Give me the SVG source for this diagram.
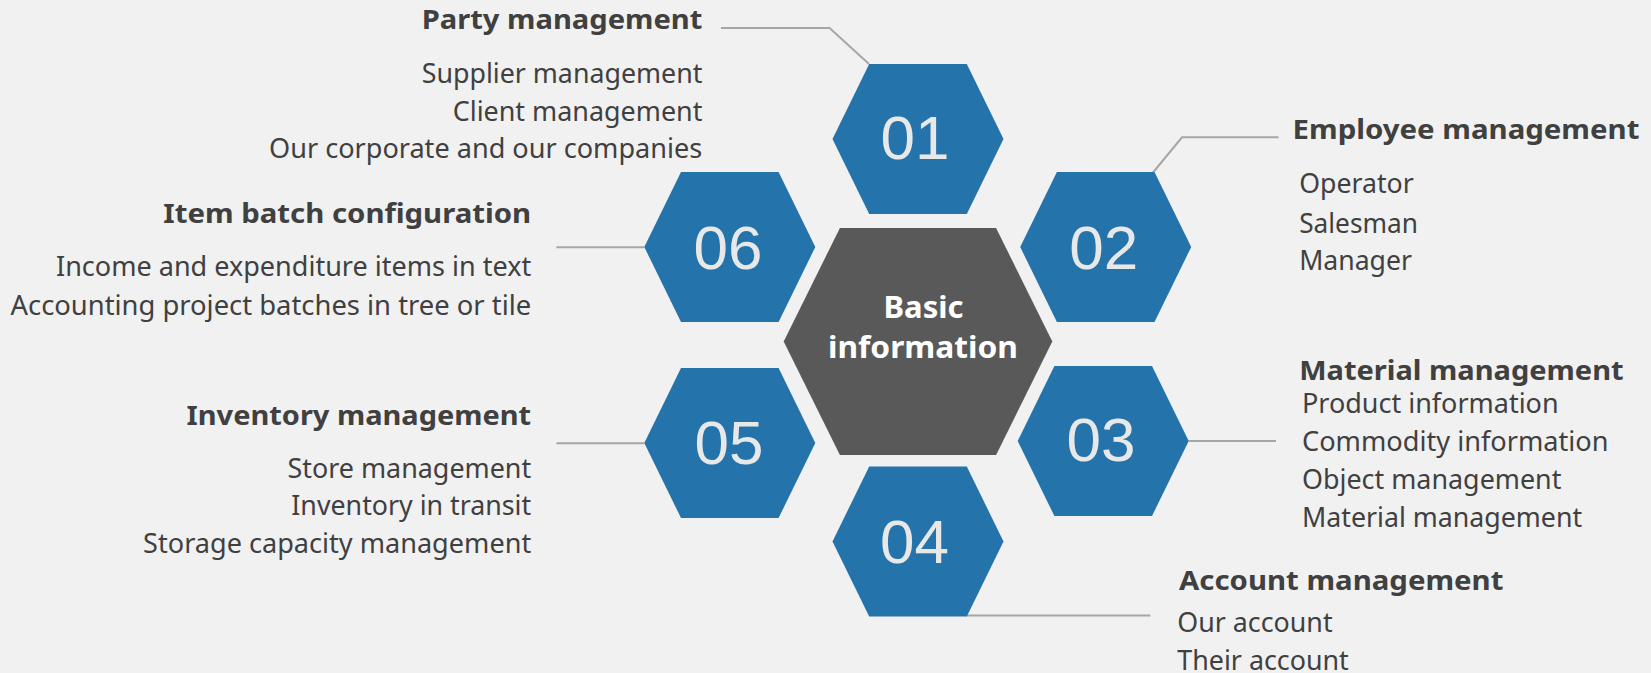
<svg xmlns="http://www.w3.org/2000/svg" xmlns:xlink="http://www.w3.org/1999/xlink" width="1651" height="673" viewBox="0 0 1651 673">
  <style>
    .hex { fill: #2473ab; }
    .core { fill: #595959; }
    .num { font-family: "Liberation Sans", Arial, sans-serif; font-size: 62px; fill: #e8e8e8; text-anchor: middle; }
    .core-t { font-family: "Noto Sans", "Open Sans", sans-serif; font-weight: bold; font-size: 31px; fill: #ffffff; text-anchor: middle; }
    .title { font-family: "Noto Sans", "Open Sans", sans-serif; font-weight: bold; font-size: 27px; fill: #404040; }
    .item { font-family: "Noto Sans", "Open Sans", sans-serif; font-size: 27px; fill: #404040; }
    .conn { fill: none; stroke: #a6a6a6; stroke-width: 2; }
  </style>
  <defs>
    <polygon id="hexShape" points="-85.5,0 -48.8,-75 48.8,-75 85.5,0 48.8,75 -48.8,75"/>
  </defs>
  <rect x="0" y="0" width="1651" height="673" fill="#f1f1f1"/>

  <g id="connectors">
    <polyline class="conn" points="721,28 829.6,28 869,64"/>
    <polyline class="conn" points="1153,172.5 1182,137.3 1278.5,137.3"/>
    <polyline class="conn" points="1188.5,441 1276,441"/>
    <polyline class="conn" points="966.6,615.5 1150.3,615.5"/>
    <polyline class="conn" points="556.4,443.3 644.4,443.3"/>
    <polyline class="conn" points="556.4,247.3 644.4,247.3"/>
  </g>

  <g id="node-core">
    <polygon class="core" points="783.7,341.5 839.9,228 996.1,228 1052.3,341.5 996.1,455 839.9,455"/>
    <text class="core-t" x="923.5" y="318" textLength="80" lengthAdjust="spacingAndGlyphs">Basic</text>
    <text class="core-t" x="923" y="358" textLength="190" lengthAdjust="spacingAndGlyphs">information</text>
  </g>

  <g id="node-01">
    <use xlink:href="#hexShape" href="#hexShape" class="hex" transform="translate(918,139)"/>
    <text class="num" x="915" y="159">01</text>
    <text class="title" x="421.7" y="29.3" textLength="280.7" lengthAdjust="spacingAndGlyphs">Party management</text>
    <text class="item" x="421.7" y="83.3" textLength="280.7" lengthAdjust="spacingAndGlyphs">Supplier management</text>
    <text class="item" x="452.7" y="120.7" textLength="249.7" lengthAdjust="spacingAndGlyphs">Client management</text>
    <text class="item" x="269" y="158.3" textLength="433.3" lengthAdjust="spacingAndGlyphs">Our corporate and our companies</text>
  </g>

  <g id="node-02">
    <use xlink:href="#hexShape" href="#hexShape" class="hex" transform="translate(1105.7,247)"/>
    <text class="num" x="1103.8" y="269.3">02</text>
    <text class="title" x="1292.6" y="139.3" textLength="346.8" lengthAdjust="spacingAndGlyphs">Employee management</text>
    <text class="item" x="1299.2" y="193.3" textLength="114.6" lengthAdjust="spacingAndGlyphs">Operator</text>
    <text class="item" x="1299.2" y="232.7" textLength="118.8" lengthAdjust="spacingAndGlyphs">Salesman</text>
    <text class="item" x="1299.2" y="270" textLength="112.8" lengthAdjust="spacingAndGlyphs">Manager</text>
  </g>

  <g id="node-03">
    <use xlink:href="#hexShape" href="#hexShape" class="hex" transform="translate(1103.2,441)"/>
    <text class="num" x="1101" y="461">03</text>
    <text class="title" x="1299.2" y="380" textLength="324.4" lengthAdjust="spacingAndGlyphs">Material management</text>
    <text class="item" x="1302" y="412.7" textLength="256.6" lengthAdjust="spacingAndGlyphs">Product information</text>
    <text class="item" x="1302" y="450.7" textLength="306.5" lengthAdjust="spacingAndGlyphs">Commodity information</text>
    <text class="item" x="1302" y="489.3" textLength="259.4" lengthAdjust="spacingAndGlyphs">Object management</text>
    <text class="item" x="1302" y="526.7" textLength="280.1" lengthAdjust="spacingAndGlyphs">Material management</text>
  </g>

  <g id="node-04">
    <use xlink:href="#hexShape" href="#hexShape" class="hex" transform="translate(918,541.5)"/>
    <text class="num" x="914.6" y="563.3">04</text>
    <text class="title" x="1179" y="590" textLength="324.4" lengthAdjust="spacingAndGlyphs">Account management</text>
    <text class="item" x="1177.3" y="631.7" textLength="155.3" lengthAdjust="spacingAndGlyphs">Our account</text>
    <text class="item" x="1177.3" y="670" textLength="171.5" lengthAdjust="spacingAndGlyphs">Their account</text>
  </g>

  <g id="node-05">
    <use xlink:href="#hexShape" href="#hexShape" class="hex" transform="translate(729.8,443)"/>
    <text class="num" x="729" y="464">05</text>
    <text class="title" x="186.5" y="425" textLength="344.7" lengthAdjust="spacingAndGlyphs">Inventory management</text>
    <text class="item" x="287.5" y="478.3" textLength="243.7" lengthAdjust="spacingAndGlyphs">Store management</text>
    <text class="item" x="291.3" y="515" textLength="239.9" lengthAdjust="spacingAndGlyphs">Inventory in transit</text>
    <text class="item" x="143.1" y="553.3" textLength="388.1" lengthAdjust="spacingAndGlyphs">Storage capacity management</text>
  </g>

  <g id="node-06">
    <use xlink:href="#hexShape" href="#hexShape" class="hex" transform="translate(729.8,247)"/>
    <text class="num" x="728" y="269.3">06</text>
    <text class="title" x="163.3" y="223.3" textLength="367.9" lengthAdjust="spacingAndGlyphs">Item batch configuration</text>
    <text class="item" x="56" y="276" textLength="475.2" lengthAdjust="spacingAndGlyphs">Income and expenditure items in text</text>
    <text class="item" x="10.5" y="315" textLength="520.7" lengthAdjust="spacingAndGlyphs">Accounting project batches in tree or tile</text>
  </g>
</svg>
